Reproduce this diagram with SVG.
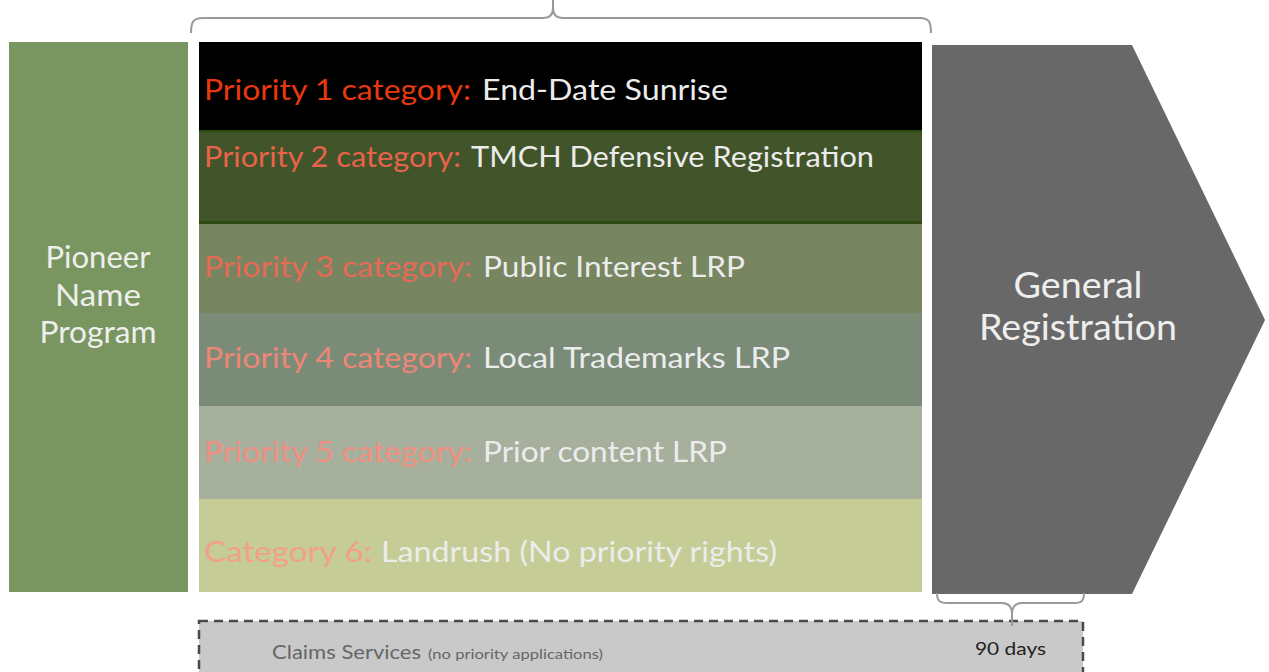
<svg xmlns="http://www.w3.org/2000/svg" width="1269" height="672" viewBox="0 0 1269 672">
<style>
.lbl{font-family:Lato,"Liberation Sans",sans-serif;font-size:29px}
.desc{font-family:Lato,"Liberation Sans",sans-serif;font-size:29px;fill:#ececec}
.big{font-family:Lato,"Liberation Sans",sans-serif;fill:#eeeeee;text-anchor:middle}
.brace{fill:none;stroke:#9a9a9a;stroke-width:2}
</style>
<rect width="1269" height="672" fill="#ffffff"/>
<g id="pioneer">
<rect x="9" y="42" width="179" height="550" fill="#7a9660"/>
<text class="big" font-size="31" x="98" y="268" textLength="105" lengthAdjust="spacingAndGlyphs">Pioneer</text>
<text class="big" font-size="31" x="98" y="306" textLength="86" lengthAdjust="spacingAndGlyphs">Name</text>
<text class="big" font-size="31" x="98" y="343" textLength="117" lengthAdjust="spacingAndGlyphs">Program</text>
</g>
<g id="p1">
<rect x="199" y="42" width="723" height="90" fill="#000000"/>
<text class="lbl" x="204" y="100" fill="#e8380e" textLength="267" lengthAdjust="spacingAndGlyphs">Priority 1 category:</text>
<text class="desc" x="482" y="100" textLength="246" lengthAdjust="spacingAndGlyphs">End-Date Sunrise</text>
</g>
<g id="p2">
<rect x="199" y="131" width="723" height="93" fill="#41542a"/>
<rect x="199" y="130" width="723" height="2.5" fill="#2c4a12"/>
<rect x="199" y="221" width="723" height="3" fill="#2c4a12"/>
<text class="lbl" x="204" y="167" fill="#e8634a" textLength="257" lengthAdjust="spacingAndGlyphs">Priority 2 category:</text>
<text class="desc" x="471" y="167" textLength="403" lengthAdjust="spacingAndGlyphs">TMCH Defensive Registration</text>
</g>
<g id="p3">
<rect x="199" y="224" width="723" height="89" fill="#778561"/>
<text class="lbl" x="204" y="277" fill="#e66a55" textLength="268" lengthAdjust="spacingAndGlyphs">Priority 3 category:</text>
<text class="desc" x="483" y="277" textLength="262" lengthAdjust="spacingAndGlyphs">Public Interest LRP</text>
</g>
<g id="p4">
<rect x="199" y="313" width="723" height="93" fill="#7a8c78"/>
<text class="lbl" x="204" y="368" fill="#ee8676" textLength="268" lengthAdjust="spacingAndGlyphs">Priority 4 category:</text>
<text class="desc" x="483" y="368" textLength="307" lengthAdjust="spacingAndGlyphs">Local Trademarks LRP</text>
</g>
<g id="p5">
<rect x="199" y="406" width="723" height="93" fill="#a6b09d"/>
<text class="lbl" x="204" y="462" fill="#f08f80" textLength="268" lengthAdjust="spacingAndGlyphs">Priority 5 category:</text>
<text class="desc" x="483" y="462" textLength="244" lengthAdjust="spacingAndGlyphs">Prior content LRP</text>
</g>
<g id="c6">
<rect x="199" y="499" width="723" height="93" fill="#c5cc96"/>
<text class="lbl" x="204" y="562" fill="#f2a08a" textLength="168" lengthAdjust="spacingAndGlyphs">Category 6:</text>
<text class="desc" x="381" y="562" textLength="396" lengthAdjust="spacingAndGlyphs">Landrush (No priority rights)</text>
</g>
<g id="general">
<polygon points="932,45 1132,45 1265,320 1132,594 932,594" fill="#686868"/>
<text class="big" font-size="37" x="1078" y="298" textLength="129" lengthAdjust="spacingAndGlyphs">General</text>
<text class="big" font-size="37" x="1078" y="340" textLength="198" lengthAdjust="spacingAndGlyphs">Registration</text>
</g>
<g id="claims">
<rect x="199" y="621" width="884" height="70" fill="#c9c9c9" stroke="#4a4a4a" stroke-width="2.5" stroke-dasharray="9 6"/>
<text x="272" y="659" font-family="Lato,'Liberation Sans',sans-serif" font-size="20" fill="#666666" textLength="149" lengthAdjust="spacingAndGlyphs">Claims Services</text>
<text x="428" y="659" font-family="Lato,'Liberation Sans',sans-serif" font-size="13" fill="#666666" textLength="175" lengthAdjust="spacingAndGlyphs">(no priority applications)</text>
<text x="975" y="655" font-family="Lato,'Liberation Sans',sans-serif" font-size="18" fill="#222222" textLength="71" lengthAdjust="spacingAndGlyphs">90 days</text>
</g>
<g id="connectors">
<path class="brace" d="M191,33 C191,22 193,18 203,18 L543,18 C550,18 553,15 553,8 L553,0 M553,8 C553,15 556,18 563,18 L920,18 C929,18 931,22 931,33"/>
<path class="brace" stroke="#8a8a8a" d="M937,593 C937,600 939,603 947,603 L1002,603 C1009,603 1012,607 1012,614 L1012,626 M1012,614 C1012,607 1015,603 1022,603 L1075,603 C1082,603 1084,600 1084,593"/>
</g>
</svg>
